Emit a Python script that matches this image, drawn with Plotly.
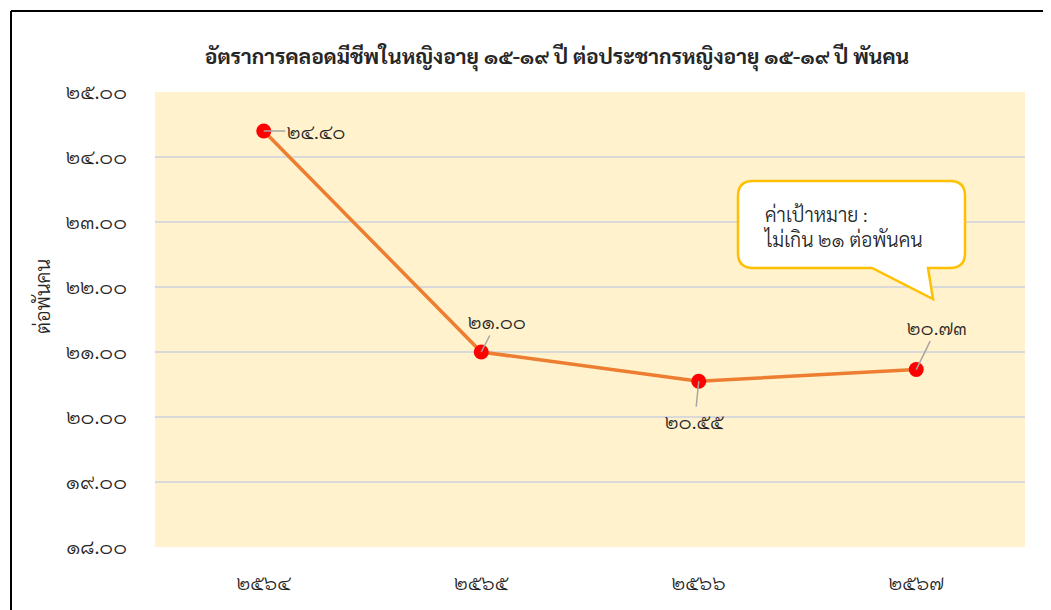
import plotly.graph_objects as go

years = ["2564", "2565", "2566", "2567"]
values = [24.40, 21.00, 20.55, 20.73]
y_ticks = [18, 19, 20, 21, 22, 23, 24, 25]
title_text = "อัตราการคลอดมีชีพในหญิงอายุ ๑๕-๑๙ ปี ต่อประชากรหญิงอายุ ๑๕-๑๙ ปี พันคน"
y_title = "ต่อพันคน"
callout_lines = ["ค่าเป้าหมาย :", "ไม่เกิน ๒๑ ต่อพันคน"]
# label offsets (pixels) for data labels: (ax, ay)
label_offsets = [(52, 0), (16, -31), (-4, 40), (21, -43)]

TH = str.maketrans("0123456789", "๐๑๒๓๔๕๖๗๘๙")
def th(s):
    return str(s).translate(TH)

FONT = "Sarabun, 'Noto Sans Thai', Loma, 'TH Sarabun New', Tahoma, sans-serif"
TXT = "#262626"

x_labels = [th(y) for y in years]

fig = go.Figure()
fig.add_trace(go.Scatter(
    x=x_labels, y=values, mode="lines+markers",
    line=dict(color="#ED7D31", width=3.5),
    marker=dict(color="#FF0000", size=15),
    hoverinfo="skip", showlegend=False,
))

for xl, v, (ax, ay) in zip(x_labels, values, label_offsets):
    fig.add_annotation(
        x=xl, y=v, text=th(f"{v:.2f}"), showarrow=True, arrowhead=0,
        arrowcolor="#A6A6A6", arrowwidth=1.5, ax=ax, ay=ay, standoff=0,
        font=dict(family=FONT, size=20, color=TXT, weight=300),
    )

# callout box (screen pixel geometry converted to paper coords)
W, H = 870.0, 455.0
def px(x):
    return (x - 155) / W
def py(y):
    return 1 - (y - 92) / H
x0, x1, y0, y1 = 738, 965, 181, 268
r = 15
pts = [
    f"M {px(x0 + r)},{py(y0)}",
    f"L {px(x1 - r)},{py(y0)}",
    f"Q {px(x1)},{py(y0)} {px(x1)},{py(y0 + r)}",
    f"L {px(x1)},{py(y1 - r)}",
    f"Q {px(x1)},{py(y1)} {px(x1 - r)},{py(y1)}",
    f"L {px(928)},{py(y1)}",
    f"L {px(933)},{py(299)}",
    f"L {px(872)},{py(y1)}",
    f"L {px(x0 + r)},{py(y1)}",
    f"Q {px(x0)},{py(y1)} {px(x0)},{py(y1 - r)}",
    f"L {px(x0)},{py(y0 + r)}",
    f"Q {px(x0)},{py(y0)} {px(x0 + r)},{py(y0)}",
    "Z",
]
fig.add_shape(type="path", xref="paper", yref="paper", path=" ".join(pts),
              fillcolor="#FFFFFF", line=dict(color="#FFC000", width=2.5), layer="above")
fig.add_annotation(
    xref="paper", yref="paper", x=px(761), y=py(226), xanchor="left", yanchor="middle",
    text="<br>".join(callout_lines), showarrow=False, align="left",
    font=dict(family=FONT, size=19.5, color=TXT, weight=300),
)

# y axis title placed as rotated annotation
fig.add_annotation(
    xref="paper", yref="paper", x=px(42), y=py(297), xanchor="center", yanchor="middle",
    text=y_title, textangle=-90, showarrow=False,
    font=dict(family=FONT, size=20, color=TXT, weight=300),
)

# outer frame lines (top and left)
fig.add_shape(type="line", xref="paper", yref="paper", x0=px(11), x1=px(1060), y0=py(11), y1=py(11),
              line=dict(color="#000000", width=2))
fig.add_shape(type="line", xref="paper", yref="paper", x0=px(11), x1=px(11), y0=py(11), y1=py(620),
              line=dict(color="#000000", width=2))

FW, FH = 1043, 602
fig.update_layout(
    width=FW, height=FH,
    margin=dict(l=147, r=26, t=84, b=63),
    paper_bgcolor="#FFFFFF", plot_bgcolor="#FFF2CC",
    title=dict(text=title_text, x=549 / FW, xanchor="center", y=1 - 49 / FH, yanchor="middle",
               font=dict(family=FONT, size=21, color=TXT, weight="bold")),
    font=dict(family=FONT, color=TXT),
)
fig.update_xaxes(range=[-0.5, 3.5], showgrid=False, showline=False, ticks="", ticklabelstandoff=22,
                 tickfont=dict(family=FONT, size=20, color=TXT, weight=300))
fig.update_yaxes(range=[18, 25], tickvals=y_ticks, ticktext=[th(f"{t:.2f}") for t in y_ticks],
                 showgrid=True, gridcolor="#D9D9D9", gridwidth=2, zeroline=False, showline=False,
                 ticks="", ticklabelstandoff=27,
                 tickfont=dict(family=FONT, size=21, color=TXT, weight=300))

fig.write_html("out.html")
